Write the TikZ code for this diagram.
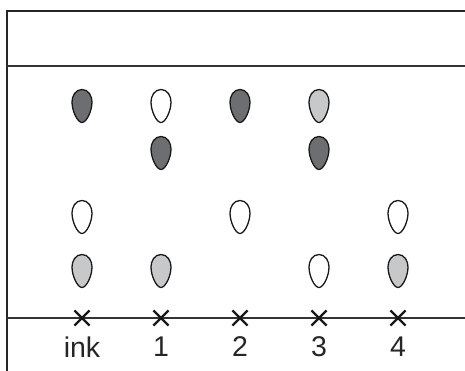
\documentclass[tikz,border=0pt]{standalone}
\usepackage{fontspec}
\setmainfont{Liberation Sans}
\usetikzlibrary{shapes.misc}
\definecolor{inkdark}{HTML}{6D6E71}
\definecolor{inklight}{HTML}{C7C8CA}
\tikzset{
  drop/.pic={
    \path[pic actions] (0,-16.5) .. controls (6.5,-16.5) and (10,-10) .. (10,-4)
      .. controls (10,5) and (4.5,16.5) .. (0,16.5)
      .. controls (-4.5,16.5) and (-10,5) .. (-10,-4)
      .. controls (-10,-10) and (-6.5,-16.5) .. (0,-16.5) -- cycle;
  },
  dropline/.style={draw=black!90, line width=1.3pt},
  darkdrop/.style={dropline, fill=inkdark},
  lightdrop/.style={dropline, fill=inklight},
  whitedrop/.style={dropline, fill=white},
  frameline/.style={draw=black!85, line width=2.4pt},
  thinline/.style={draw=black!80, line width=1.6pt},
  xmark/.style={draw=black!90, cross out, line width=2.2pt, minimum size=13pt, inner sep=0pt},
  lab/.style={font=\fontsize{28.5}{32}\selectfont, text=black!85, inner sep=0pt}
}
\begin{document}
\begin{tikzpicture}[x=1pt, y=-1pt]
\useasboundingbox (0,0) rectangle (465,370);
% frame
\coordinate (tl) at (7,11);
\coordinate (tr) at (466,11);
\coordinate (bl) at (7,371);
\coordinate (ml) at (7,66);
\coordinate (mr) at (466,66);
\coordinate (al) at (7,318);
\coordinate (ar) at (466,318);
\draw[frameline] (tr) -- (tl) -- (bl);
\draw[thinline] (ml) -- (mr);
\draw[thinline] (al) -- (ar);
% crosses and labels
\foreach \x/\n/\t in {82/c0/ink,161/c1/1,240/c2/2,319/c3/3,398/c4/4}{
  \node[xmark] (x\n) at (\x,318) {};
  \node[lab] (l\n) at (\x,347) {\t};
}
% row 1
\pic[darkdrop]  at (82,106) {drop};
\pic[whitedrop] at (161,106) {drop};
\pic[darkdrop]  at (240,106) {drop};
\pic[lightdrop] at (319,106) {drop};
% row 2
\pic[darkdrop]  at (161,153) {drop};
\pic[darkdrop]  at (319,153) {drop};
% row 3
\pic[whitedrop] at (82,217) {drop};
\pic[whitedrop] at (240,217) {drop};
\pic[whitedrop] at (398,217) {drop};
% row 4
\pic[lightdrop] at (82,271) {drop};
\pic[lightdrop] at (161,271) {drop};
\pic[whitedrop] at (319,271) {drop};
\pic[lightdrop] at (398,271) {drop};
\end{tikzpicture}
\end{document}
